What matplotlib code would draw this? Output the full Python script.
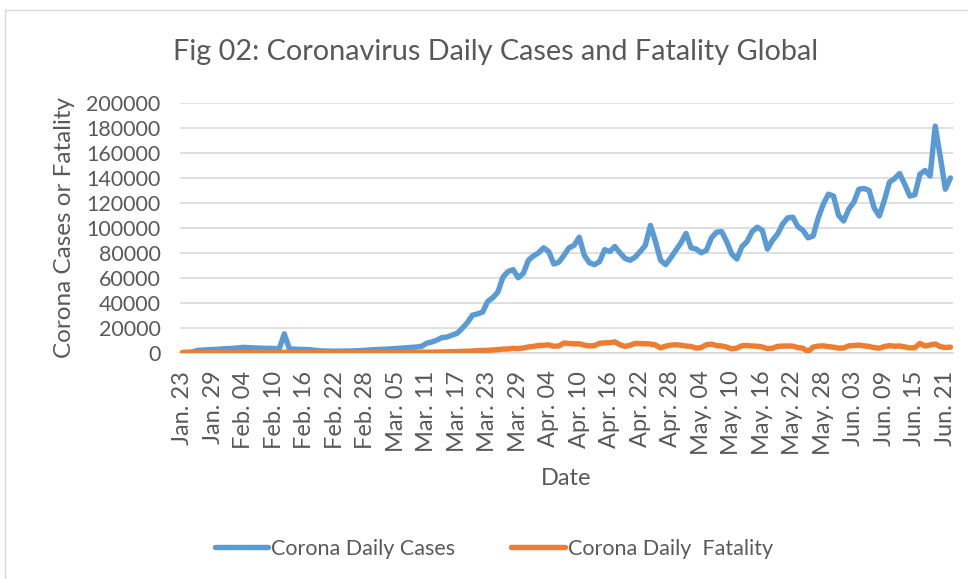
import matplotlib
matplotlib.use('Agg')
import matplotlib.pyplot as plt
from matplotlib.lines import Line2D
import numpy as np

# daily global values, Jan 23 .. Jun 22 (152 days)
daily_cases = [
    100, 300, 600, 1800, 2000, 2300, 2500, 2700, 3000, 3200,
    3500, 3800, 4200, 4000, 3800, 3600, 3500, 3400, 3300, 3000,
    15000, 3000, 2800, 2600, 2500, 2300, 1800, 1500, 1300, 1200,
    1100, 1200, 1200, 1300, 1400, 1600, 1900, 2200, 2400, 2600,
    2800, 3000, 3300, 3600, 3900, 4200, 4500, 5000, 7500, 8500,
    10000, 12000, 12500, 14000, 15500, 19500, 24000, 30000, 31000, 32500,
    41000, 44000, 48500, 60500, 65000, 66500, 60000, 63500, 74000, 77500,
    80000, 84000, 81000, 71000, 72500, 78000, 84000, 86000, 92500, 78000,
    72000, 70500, 73000, 82500, 81000, 85000, 80000, 75500, 74000, 76500,
    81000, 86000, 102000, 89000, 74000, 70500, 76000, 82000, 88000, 95500,
    84000, 83000, 80000, 82000, 92000, 96500, 97000, 89000, 79000, 75000,
    85000, 89000, 97000, 100500, 98000, 83000, 90000, 95000, 103000, 108000,
    108500, 101000, 98000, 92000, 93500, 108000, 119000, 127000, 125500, 110000,
    105500, 115000, 120500, 131000, 131500, 130000, 116000, 109500, 122000, 136500,
    139500, 143500, 135000, 125500, 126500, 143000, 146000, 141500, 181500, 157000,
    131000, 140000,
]

daily_fatality = [
    10, 10, 15, 25, 25, 25, 40, 40, 45, 45,
    60, 65, 70, 75, 85, 85, 90, 95, 110, 100,
    250, 140, 145, 140, 105, 100, 100, 110, 100, 115,
    100, 150, 80, 70, 50, 45, 60, 70, 60, 70,
    80, 90, 100, 100, 110, 230, 210, 290, 330, 330,
    420, 440, 550, 710, 800, 1000, 1100, 1300, 1500, 1700,
    1800, 2100, 2400, 2800, 2900, 3400, 3200, 3700, 4500, 5000,
    5700, 5900, 6200, 5100, 5300, 7700, 7300, 7000, 7100, 6000,
    5400, 5600, 7500, 7800, 8000, 8600, 6300, 5000, 5900, 7400,
    7200, 7100, 6900, 6100, 3800, 5200, 6000, 6300, 5900, 5300,
    4900, 3600, 4100, 6300, 6800, 5600, 5300, 4400, 3000, 3600,
    5500, 5700, 5300, 5100, 4500, 3200, 3500, 5000, 5200, 5300,
    5200, 4000, 3500, 800, 4400, 5200, 5400, 4800, 4300, 3600,
    3700, 5400, 5700, 6000, 5400, 4900, 4000, 3600, 4800, 5600,
    5100, 5300, 4600, 3800, 3900, 7400, 5300, 6100, 6900, 4800,
    4100, 4400,
]

tick_labels = ['Jan. 23', 'Jan. 29', 'Feb. 04', 'Feb. 10', 'Feb. 16', 'Feb. 22',
               'Feb. 28', 'Mar. 05', 'Mar. 11', 'Mar. 17', 'Mar. 23', 'Mar. 29',
               'Apr. 04', 'Apr. 10', 'Apr. 16', 'Apr. 22', 'Apr. 28', 'May. 04',
               'May. 10', 'May. 16', 'May. 22', 'May. 28', 'Jun. 03', 'Jun. 09',
               'Jun. 15', 'Jun. 21']

text_col = '#595959'
plt.rcParams['font.family'] = ['Lato', 'DejaVu Sans']

fig = plt.figure(figsize=(9.68, 5.79), dpi=100)
ax = fig.add_axes([0.186, 0.391, 0.7985, 0.431])

x = np.arange(len(daily_cases))
ax.plot(x, daily_cases, color='#5B9BD5', lw=3.9, solid_capstyle='round',
        solid_joinstyle='round', label='Corona Daily Cases', zorder=3)
ax.plot(x, daily_fatality, color='#ED7D31', lw=3.9, solid_capstyle='round',
        solid_joinstyle='round', label='Corona Daily  Fatality', zorder=4)

ax.set_xlim(-0.5, len(x) - 0.5)
ax.set_ylim(0, 200000)
ax.set_yticks(np.arange(0, 200001, 20000))
ax.set_yticklabels([str(v) for v in range(0, 200001, 20000)])
ax.set_xticks(np.arange(0, len(x), 6))
ax.set_xticklabels(tick_labels, rotation=90)
ax.tick_params(length=0, colors=text_col)
ax.tick_params(axis='y', labelsize=15.5, pad=14)
ax.tick_params(axis='x', labelsize=17, pad=13)
ax.grid(axis='y', color='#D9D9D9', lw=1.2)
ax.set_axisbelow(True)
for s in ['top', 'right', 'left']:
    ax.spines[s].set_visible(False)
ax.spines['bottom'].set_color('#D9D9D9')
ax.spines['bottom'].set_linewidth(1.2)

ax.set_xlabel('Date', fontsize=17, color=text_col, labelpad=9)
ax.set_ylabel('Corona Cases or Fatality', fontsize=17.5, color=text_col, labelpad=8)
fig.text(0.512, 0.91, 'Fig 02: Coronavirus Daily Cases and Fatality Global',
         ha='center', va='center', fontsize=20.8, color=text_col)

ax.legend(loc='center', bbox_to_anchor=(0.51, 0.052), bbox_transform=fig.transFigure,
          ncol=2, frameon=False, fontsize=15.5, handlelength=2.5, handletextpad=0.12,
          columnspacing=2.6, labelcolor=text_col)

# chart frame
fig.add_artist(Line2D([5 / 968, 5 / 968], [0, 1 - 10 / 579], color='#D9D9D9', lw=1))
fig.add_artist(Line2D([5 / 968, 1], [1 - 10 / 579, 1 - 10 / 579], color='#D9D9D9', lw=1))

fig.savefig('out.png', dpi=100)
